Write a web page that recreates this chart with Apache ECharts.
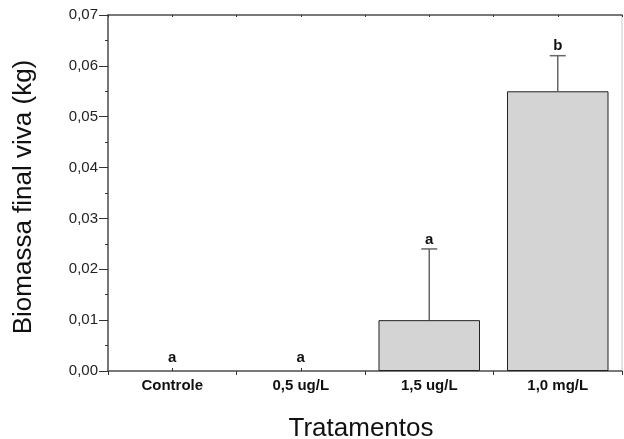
<!DOCTYPE html>
<html>
<head>
<meta charset="utf-8">
<script src="https://cdn.jsdelivr.net/npm/echarts@6/dist/echarts.min.js"></script>
<style>html,body{margin:0;padding:0;background:#fff}#c{width:624px;height:439px}</style>
</head>
<body>
<div id="c"></div>
<script>
var categories = ['Controle', '0,5 ug/L', '1,5 ug/L', '1,0 mg/L'];
var means = [0, 0, 0.010, 0.055];
var errorTops = [0, 0, 0.024, 0.062];
var letters = ['a', 'a', 'a', 'b'];
var yTicks = {min: 0, max: 0.07, interval: 0.01};

var chart = echarts.init(document.getElementById('c'));
var FONT = '"Liberation Sans", Arial, sans-serif';

var barData = means.map(function (v) {
  return v > 0 ? v : {value: v, itemStyle: {borderWidth: 0}};
});
var errData = categories.map(function (c, i) { return [i, means[i], errorTops[i]]; });
var letterData = categories.map(function (c, i) { return [i, errorTops[i], letters[i]]; });

chart.setOption({
  animation: false,
  grid: {left: 108, right: 2, top: 15, bottom: 68, containLabel: false, outerBoundsMode: 'none',
    show: true, borderColor: '#c8c8c8', borderWidth: 1, backgroundColor: 'transparent'},
  xAxis: [
    {
      type: 'category', data: categories, position: 'bottom', boundaryGap: true,
      axisLine: {lineStyle: {color: '#555', width: 1.5}},
      axisTick: {show: true, inside: false, length: 4, lineStyle: {color: '#333'}},
      axisLabel: {color: '#111', fontFamily: FONT, fontSize: 15, fontWeight: 'bold', margin: 7},
      name: 'Tratamentos', nameLocation: 'middle', nameGap: 45,
      nameTextStyle: {color: '#111', fontFamily: FONT, fontSize: 26, padding: [0, 8, 0, 0]}
    },
    {
      type: 'category', data: categories, position: 'bottom', boundaryGap: true,
      axisLine: {show: false},
      axisTick: {show: true, inside: true, alignWithLabel: true, length: 3, lineStyle: {color: '#333'}},
      axisLabel: {show: false}
    },
    {
      type: 'value', position: 'top', min: 0, max: 8, interval: 1,
      axisLine: {show: true, lineStyle: {color: '#555', width: 1.5}},
      axisTick: {show: true, inside: true, length: 2, lineStyle: {color: '#333'}},
      axisLabel: {show: false}, splitLine: {show: false}
    }
  ],
  yAxis: {
    type: 'value', min: yTicks.min, max: yTicks.max, interval: yTicks.interval,
    axisLine: {show: true, lineStyle: {color: '#555', width: 1.5}},
    axisTick: {show: true, inside: false, length: 9, lineStyle: {color: '#333'}},
    minorTick: {show: true, splitNumber: 2, length: 3, lineStyle: {color: '#333'}},
    splitLine: {show: false},
    axisLabel: {color: '#222', fontFamily: FONT, fontSize: 15, margin: 10,
      formatter: function (v) { return v.toFixed(2).replace('.', ','); }},
    name: 'Biomassa final viva (kg)', nameLocation: 'middle', nameGap: 71,
    nameTextStyle: {color: '#111', fontFamily: FONT, fontSize: 26, padding: [0, 8, 0, 0]}
  },
  series: [
    {
      type: 'bar', data: barData, barWidth: '79%', xAxisIndex: 0,
      itemStyle: {color: '#d4d4d4', borderColor: '#222', borderWidth: 1}
    },
    {
      type: 'custom', xAxisIndex: 0, data: errData, z: 5,
      renderItem: function (params, api) {
        if (api.value(2) <= api.value(1)) return null;
        var base = api.coord([api.value(0), api.value(1)]);
        var top = api.coord([api.value(0), api.value(2)]);
        var style = {stroke: '#666', lineWidth: 1.5};
        return {type: 'group', children: [
          {type: 'line', shape: {x1: base[0], y1: base[1], x2: top[0], y2: top[1]}, style: style},
          {type: 'line', shape: {x1: top[0] - 8, y1: top[1], x2: top[0] + 8, y2: top[1]}, style: style}
        ]};
      }
    },
    {
      type: 'custom', xAxisIndex: 0, data: letterData, z: 6,
      renderItem: function (params, api) {
        var p = api.coord([api.value(0), api.value(1)]);
        var off = api.value(1) > 0 ? 2 : 6;
        return {type: 'text', x: p[0], y: p[1] - off,
          style: {text: letters[params.dataIndex], fill: '#111', font: 'bold 15px ' + FONT, align: 'center', verticalAlign: 'bottom'}};
      }
    }
  ]
});
</script>
</body>
</html>
